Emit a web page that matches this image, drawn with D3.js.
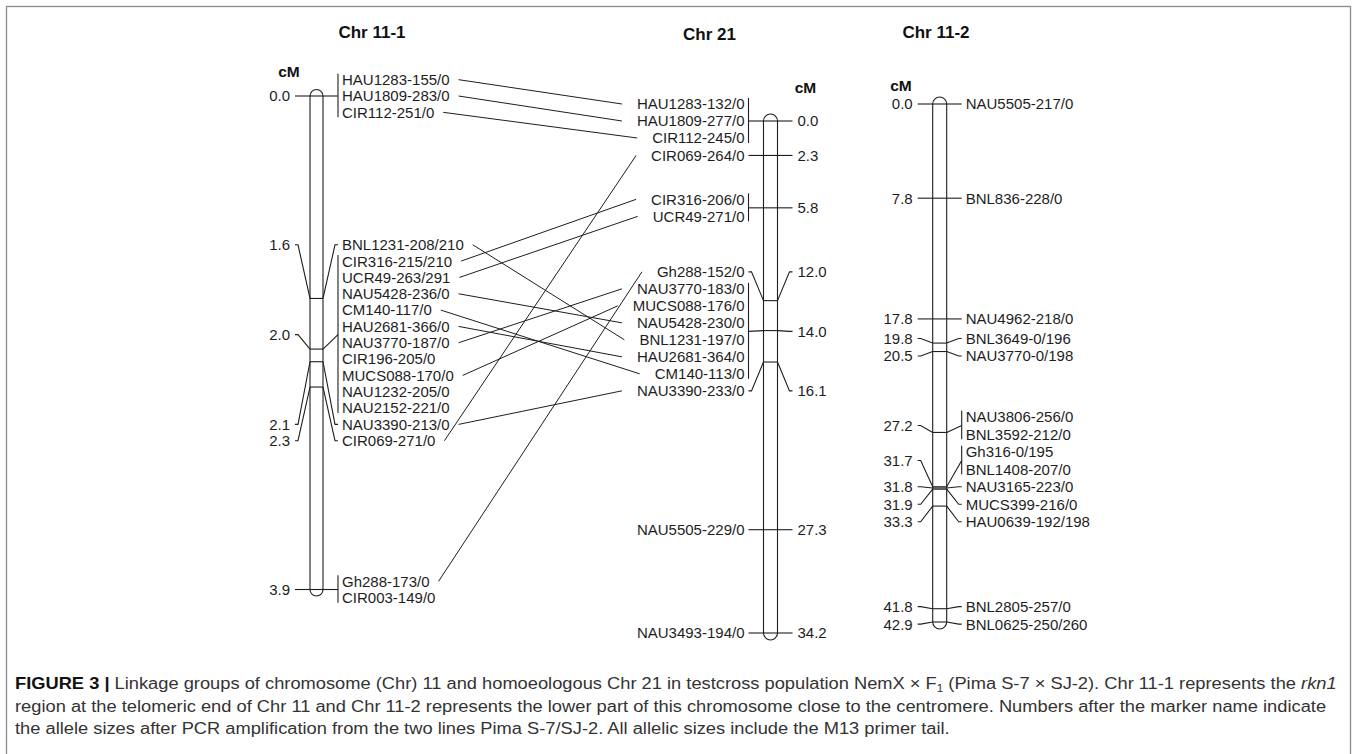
<!DOCTYPE html>
<html>
<head>
<meta charset="utf-8">
<script src="https://cdn.jsdelivr.net/npm/d3@7"></script>
<style>
  html, body { margin: 0; padding: 0; background: #fff; }
  svg { display: block; }
  text { font-family: "Liberation Sans", Arial, Helvetica, sans-serif; }
</style>
</head>
<body>
<svg id="fig" width="1357" height="754"></svg>
<script>
// ---------------- data ----------------
const chromosomeTitles = ["Chr 11-1", "Chr 21", "Chr 11-2"];

// Chr 11-1 (rkn1 region, telomeric end of Chr 11)
const chr11aMarkers = [
  "HAU1283-155/0", "HAU1809-283/0", "CIR112-251/0",
  "BNL1231-208/210",
  "CIR316-215/210", "UCR49-263/291", "NAU5428-236/0", "CM140-117/0", "HAU2681-366/0",
  "NAU3770-187/0", "CIR196-205/0", "MUCS088-170/0", "NAU1232-205/0", "NAU2152-221/0",
  "NAU3390-213/0", "CIR069-271/0",
  "Gh288-173/0", "CIR003-149/0"
];
const chr11aPositions = [
  0.0, 0.0, 0.0,
  1.6,
  2.0, 2.0, 2.0, 2.0, 2.0,
  2.0, 2.0, 2.0, 2.0, 2.0,
  2.1, 2.3,
  3.9, 3.9
];

// Chr 21 (homoeologous)
const chr21Markers = [
  "HAU1283-132/0", "HAU1809-277/0", "CIR112-245/0",
  "CIR069-264/0",
  "CIR316-206/0", "UCR49-271/0",
  "Gh288-152/0",
  "NAU3770-183/0", "MUCS088-176/0", "NAU5428-230/0", "BNL1231-197/0", "HAU2681-364/0", "CM140-113/0",
  "NAU3390-233/0",
  "NAU5505-229/0",
  "NAU3493-194/0"
];
const chr21Positions = [
  0.0, 0.0, 0.0,
  2.3,
  5.8, 5.8,
  12.0,
  14.0, 14.0, 14.0, 14.0, 14.0, 14.0,
  16.1,
  27.3,
  34.2
];

// Chr 11-2 (lower part of Chr 11, near the centromere)
const chr11bMarkers = [
  "NAU5505-217/0", "BNL836-228/0", "NAU4962-218/0", "BNL3649-0/196", "NAU3770-0/198",
  "NAU3806-256/0", "BNL3592-212/0", "Gh316-0/195", "BNL1408-207/0",
  "NAU3165-223/0", "MUCS399-216/0", "HAU0639-192/198",
  "BNL2805-257/0", "BNL0625-250/260"
];
const chr11bPositions = [
  0.0, 7.8, 17.8, 19.8, 20.5,
  27.2, 27.2, 31.7, 31.7,
  31.8, 31.9, 33.3,
  41.8, 42.9
];

// shared markers joined between Chr 11-1 and Chr 21
const linkFromChr11a = [
  "HAU1283-155/0", "HAU1809-283/0", "CIR112-251/0", "BNL1231-208/210", "CIR316-215/210",
  "UCR49-263/291", "NAU5428-236/0", "CM140-117/0", "HAU2681-366/0", "NAU3770-187/0",
  "MUCS088-170/0", "NAU3390-213/0", "CIR069-271/0", "Gh288-173/0"
];
const linkToChr21 = [
  "HAU1283-132/0", "HAU1809-277/0", "CIR112-245/0", "BNL1231-197/0", "CIR316-206/0",
  "UCR49-271/0", "NAU5428-230/0", "CM140-113/0", "HAU2681-364/0", "NAU3770-183/0",
  "MUCS088-176/0", "NAU3390-233/0", "CIR069-264/0", "Gh288-152/0"
];

const captionLines = [
  [
    { t: "FIGURE 3 | ", s: "bold" },
    { t: "Linkage groups of chromosome (Chr) 11 and homoeologous Chr 21 in testcross population NemX \u00d7 F" },
    { t: "1", s: "sub" },
    { t: " (Pima S-7 \u00d7 SJ-2). Chr 11-1 represents the " },
    { t: "rkn1", s: "italic" }
  ],
  [ { t: "region at the telomeric end of Chr 11 and Chr 11-2 represents the lower part of this chromosome close to the centromere. Numbers after the marker name indicate" } ],
  [ { t: "the allele sizes after PCR amplification from the two lines Pima S-7/SJ-2. All allelic sizes include the M13 primer tail." } ]
];

// ---------------- drawing ----------------
const ink = "#1e1e1e";
const svg = d3.select("#fig");

// figure frame
svg.append("rect")
  .attr("x", 6.5).attr("y", 6.5).attr("width", 1344).attr("height", 820)
  .attr("fill", "none").attr("stroke", "#8c8c8c").attr("stroke-width", 1.3);

const chromosomes = [
  { key: "a", title: chromosomeTitles[0], markers: chr11aMarkers, positions: chr11aPositions,
    cx: 316.5, w: 13, top: 96, bottom: 589.5, side: 1, spacing: 16.33,
    titleX: 372, titleY: 38, cmX: 289, cmY: 77 },
  { key: "b", title: chromosomeTitles[1], markers: chr21Markers, positions: chr21Positions,
    cx: 770.5, w: 14, top: 121, bottom: 633, side: -1, spacing: 17,
    titleX: 709.5, titleY: 40, cmX: 805.5, cmY: 93 },
  { key: "c", title: chromosomeTitles[2], markers: chr11bMarkers, positions: chr11bPositions,
    cx: 939.7, w: 14, top: 104, bottom: 622, side: 1, spacing: 17.5,
    titleX: 936, titleY: 38, cmX: 901, cmY: 91 }
];

// Spread marker labels so they do not overlap: loci are grouped into clusters
// (least-squares test), each cluster is centred between its outer loci.
function layoutLabels(positions, y, s) {
  const loci = d3.groups(positions.map((p, i) => ({ p, i })), d => d.p);
  let blocks = loci.map(([p, items]) => ({
    first: y(p), last: y(p),
    items: items.map(d => d.i),
    ideals: items.map(() => y(p))
  }));
  const half = b => (b.items.length - 1) * s / 2;
  let merged = true;
  while (merged) {
    merged = false;
    for (let k = 0; k < blocks.length - 1; k++) {
      const a = blocks[k], b = blocks[k + 1];
      const aBottom = d3.mean(a.ideals) + half(a);
      const bTop = d3.mean(b.ideals) - half(b);
      if (bTop - aBottom < s) {
        blocks.splice(k, 2, {
          first: a.first, last: b.last,
          items: a.items.concat(b.items),
          ideals: a.ideals.concat(b.ideals)
        });
        merged = true;
        break;
      }
    }
  }
  const out = [];
  blocks.forEach(b => {
    const c = (b.first + b.last) / 2;
    const n = b.items.length;
    b.items.forEach((idx, j) => { out[idx] = c + (j - (n - 1) / 2) * s; });
  });
  return out;
}

const labelNodes = {};
const labelYs = {};
const line = d3.line();
const fmt = d3.format(".1f");

chromosomes.forEach(c => {
  const g = svg.append("g");
  const y = d3.scaleLinear().domain([0, d3.max(c.positions)]).range([c.top, c.bottom]);
  const xl = c.cx - c.w / 2, xr = c.cx + c.w / 2, r = c.w / 2;
  const s = c.side;
  const mEdge = s > 0 ? xr : xl;   // edge facing the marker names
  const pEdge = s > 0 ? xl : xr;   // edge facing the cM values

  // title and unit
  g.append("text").attr("x", c.titleX).attr("y", c.titleY)
    .attr("text-anchor", "middle").attr("font-size", 17).attr("font-weight", "bold")
    .attr("fill", "#111").text(c.title);
  g.append("text").attr("x", c.cmX).attr("y", c.cmY)
    .attr("text-anchor", "middle").attr("font-size", 15.5).attr("font-weight", "bold")
    .attr("fill", "#111").text("cM");

  // chromosome body with rounded ends
  g.append("path")
    .attr("d", `M${xl},${y(0)}L${xl},${c.bottom}A${r},${r} 0 0 0 ${xr},${c.bottom}` +
               `L${xr},${y(0)}A${r},${r} 0 0 0 ${xl},${y(0)}Z`)
    .attr("fill", "#fff").attr("stroke", ink).attr("stroke-width", 1.1);

  const ly = layoutLabels(c.positions, y, c.spacing);
  labelYs[c.key] = {};
  labelNodes[c.key] = {};

  const loci = d3.groups(c.positions.map((p, i) => ({ p, i })), d => d.p);
  const strokeIt = sel => sel.attr("fill", "none").attr("stroke", ink).attr("stroke-width", 1.1);

  loci.forEach(([p, items]) => {
    const by = y(p);
    const ys = items.map(d => ly[d.i]);
    const yc = d3.mean(ys);

    // band across the chromosome
    g.append("path").attr("d", line([[xl, by], [xr, by]])).call(strokeIt);

    // marker side
    if (items.length > 1) {
      const bx = mEdge + s * 15;
      g.append("path").attr("d", line([[bx, d3.min(ys) - 6], [bx, d3.max(ys) + 5]])).call(strokeIt);
      g.append("path").attr("d", line([[mEdge, by], [bx, yc]])).call(strokeIt);
    } else if (Math.abs(yc - by) < 0.5) {
      g.append("path").attr("d", line([[mEdge, by], [mEdge + s * 15, by]])).call(strokeIt);
    } else {
      g.append("path").attr("d", line([[mEdge, by], [mEdge + s * 12, yc], [mEdge + s * 15, yc]])).call(strokeIt);
    }

    // cM side
    if (Math.abs(yc - by) < 0.5) {
      g.append("path").attr("d", line([[pEdge, by], [pEdge - s * 15, by]])).call(strokeIt);
    } else {
      g.append("path").attr("d", line([[pEdge, by], [pEdge - s * 12, yc], [pEdge - s * 15, yc]])).call(strokeIt);
    }
    g.append("text")
      .attr("x", pEdge - s * 20).attr("y", yc).attr("dy", "0.36em")
      .attr("text-anchor", s > 0 ? "end" : "start")
      .attr("font-size", 15).attr("fill", ink)
      .text(fmt(p));
  });

  c.markers.forEach((m, i) => {
    const t = g.append("text")
      .attr("x", mEdge + s * 19).attr("y", ly[i]).attr("dy", "0.36em")
      .attr("text-anchor", s > 0 ? "start" : "end")
      .attr("font-size", 15).attr("fill", ink)
      .text(m);
    labelNodes[c.key][m] = t.node();
    labelYs[c.key][m] = ly[i];
  });
});

// lines joining shared markers of Chr 11-1 and Chr 21
const links = svg.append("g");
linkFromChr11a.forEach((from, k) => {
  const to = linkToChr21[k];
  const a = labelNodes.a[from].getBBox();
  const b = labelNodes.b[to].getBBox();
  links.append("path")
    .attr("d", line([[a.x + a.width + 9, labelYs.a[from]], [b.x - 15, labelYs.b[to]]]))
    .attr("fill", "none").attr("stroke", ink).attr("stroke-width", 1);
});

// caption: set in a slightly smaller size and widened to the column's measure
const cap = svg.append("g");
const capTop = 689, capStep = 22.5, capSize = 17.3, capWiden = 18.3 / 17.3;
captionLines.forEach((segs, li) => {
  const t = cap.append("text")
    .attr("x", 15).attr("y", capTop + li * capStep)
    .attr("font-size", capSize).attr("fill", "#333");
  segs.forEach(seg => {
    const ts = t.append("tspan").text(seg.t);
    if (seg.s === "bold") ts.attr("font-weight", "bold").attr("fill", "#111");
    if (seg.s === "italic") ts.attr("font-style", "italic");
    if (seg.s === "sub") ts.attr("font-size", 11).attr("baseline-shift", -3);
  });
  const natural = t.node().getComputedTextLength();
  t.attr("textLength", natural * capWiden).attr("lengthAdjust", "spacingAndGlyphs");
});
</script>
</body>
</html>
